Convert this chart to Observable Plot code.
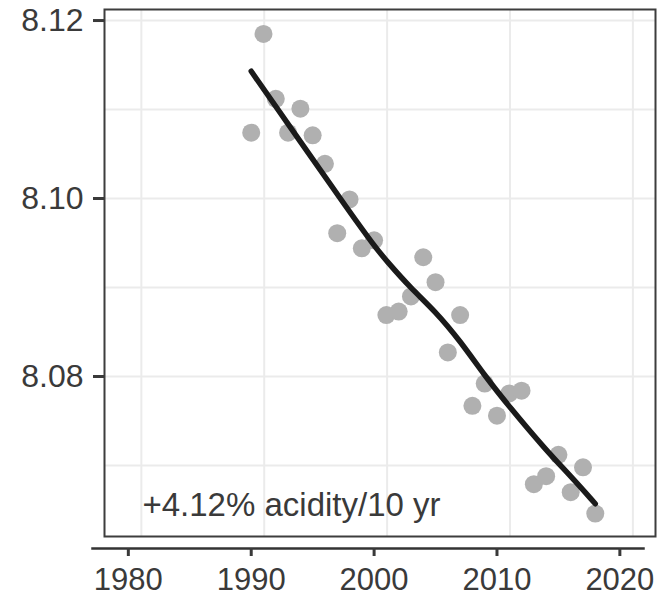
<!DOCTYPE html>
<html><head><meta charset="utf-8">
<script src="https://cdn.jsdelivr.net/npm/d3@7"></script>
<script src="https://cdn.jsdelivr.net/npm/@observablehq/plot@0.6"></script>
<style>html,body{margin:0;padding:0;background:#fff;}</style>
</head><body><div id="chart"></div>
<script>
// observed annual means
const years = [1990,1991,1992,1993,1994,1995,1996,1997,1998,1999,2000,2001,2002,2003,2004,2005,2006,2007,2008,2009,2010,2011,2012,2013,2014,2015,2016,2017,2018];
const pH    = [8.1074,8.1185,8.1112,8.1074,8.1101,8.1071,8.1039,8.0961,8.0999,8.0944,8.0953,8.0869,8.0873,8.0890,8.0934,8.0906,8.0827,8.0869,8.0767,8.0792,8.0756,8.0781,8.0784,8.0679,8.0688,8.0712,8.0670,8.0698,8.0646];
// smoothed trend
const fitYears = [1990,1994,1998,2000,2001,2003,2005,2007,2009,2011,2014,2016,2018];
const fitPH    = [8.1143,8.1064,8.0985,8.0947,8.0930,8.0899,8.0873,8.0840,8.0801,8.0766,8.0717,8.0688,8.0657];
// axes
const xTicks = [1980,1990,2000,2010,2020];
const yTicks = [8.08,8.10,8.12];
const yGrid  = [8.07,8.08,8.09,8.10,8.11,8.12];
const annotation = [{year: 1981.15, pH: 8.0655, text: "+4.12% acidity/10 yr"}];

const points = years.map((year, i) => ({year, pH: pH[i]}));
const fit = fitYears.map((year, i) => ({year, pH: fitPH[i]}));

const chart = Plot.plot({
  width: 659, height: 595,
  marginLeft: 104, marginRight: 4, marginTop: 9, marginBottom: 59,
  style: {fontFamily: "'Liberation Sans', Arial, Helvetica, sans-serif", background: "#fff", overflow: "visible"},
  x: {domain: [1978.06, 2022.90], label: null},
  y: {domain: [8.06202, 8.12124], label: null},
  marks: [
    Plot.gridX({ticks: xTicks, dx: 13, stroke: "#ebebeb", strokeOpacity: 1, strokeWidth: 2}),
    Plot.gridY({ticks: yGrid, stroke: "#ebebeb", strokeOpacity: 1, strokeWidth: 2}),
    Plot.dot(points, {x: "year", y: "pH", r: 9, fill: "#b0b0b0", stroke: null}),
    Plot.line(fit, {x: "year", y: "pH", stroke: "#1a1a1a", strokeWidth: 5.5, curve: "basis"}),
    Plot.text(annotation, {x: "year", y: "pH", text: "text", textAnchor: "start", lineAnchor: "middle", fontSize: 33, fill: "#3a3a3a"}),
    Plot.frame({stroke: "#3d3d3d", strokeWidth: 2}),
    Plot.frame({anchor: "bottom", dx: -12, dy: 12, stroke: "#333", strokeWidth: 2.5}),
    Plot.axisY({ticks: yTicks, tickSize: 11, tickPadding: 10, tickFormat: ".2f", fontSize: 32, color: "#3a3a3a", strokeWidth: 3, label: null}),
    Plot.axisX({ticks: xTicks, tickSize: 8, tickPadding: 11, dy: 12, tickFormat: d => String(d), fontSize: 31, color: "#3a3a3a", strokeWidth: 3, label: null})
  ]
});
document.getElementById("chart").appendChild(chart);
</script>
</body></html>
